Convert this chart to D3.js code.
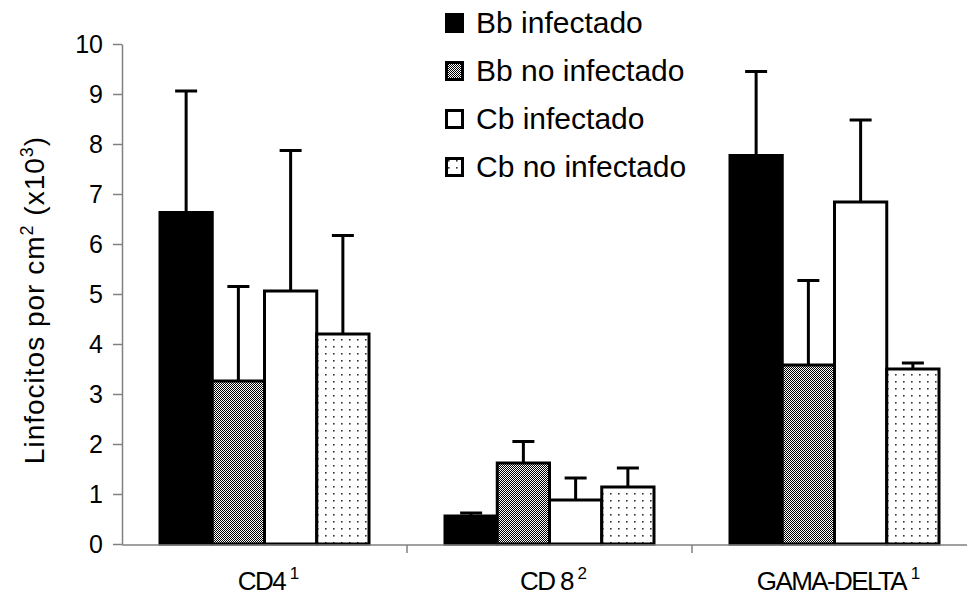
<!DOCTYPE html>
<html>
<head>
<meta charset="utf-8">
<script src="https://cdn.jsdelivr.net/npm/d3@7"></script>
<style>
  body { margin: 0; background: #fff; }
  text { font-family: Arial, "Liberation Sans", sans-serif; fill: #000; }
</style>
</head>
<body>
<div id="canvas"></div>
<script>
// data
const categories = ['CD4', 'CD 8', 'GAMA-DELTA'];
const catSup = ['1', '2', '1'];
const series = ['Bb infectado', 'Bb no infectado', 'Cb infectado', 'Cb no infectado'];
const bbInf = [6.63, 0.56, 7.77];
const bbNoInf = [3.26, 1.62, 3.58];
const cbInf = [5.06, 0.88, 6.84];
const cbNoInf = [4.2, 1.14, 3.5];
const bbInfErr = [9.06, 0.62, 9.45];
const bbNoInfErr = [5.15, 2.05, 5.27];
const cbInfErr = [7.87, 1.32, 8.48];
const cbNoInfErr = [6.17, 1.52, 3.62];
const yTicks = [0, 1, 2, 3, 4, 5, 6, 7, 8, 9, 10];

const values = [bbInf, bbNoInf, cbInf, cbNoInf];
const errors = [bbInfErr, bbNoInfErr, cbInfErr, cbNoInfErr];
const fills = ['#000', 'url(#checker)', '#fff', 'url(#dots)'];

const width = 967, height = 597;

const svg = d3.select('#canvas')
  .append('svg')
  .attr('width', width)
  .attr('height', height);

// patterns
const defs = svg.append('defs');
const checker = defs.append('pattern')
  .attr('id', 'checker')
  .attr('patternUnits', 'userSpaceOnUse')
  .attr('width', 2).attr('height', 2);
checker.append('rect').attr('width', 2).attr('height', 2).attr('fill', '#fff');
checker.append('rect').attr('width', 1).attr('height', 1).attr('fill', '#000');
checker.append('rect').attr('x', 1).attr('y', 1).attr('width', 1).attr('height', 1).attr('fill', '#000');

const dots = defs.append('pattern')
  .attr('id', 'dots')
  .attr('patternUnits', 'userSpaceOnUse')
  .attr('width', 8).attr('height', 7);
dots.append('rect').attr('width', 8).attr('height', 7).attr('fill', '#fff');
dots.append('rect').attr('x', 3).attr('y', 3).attr('width', 1.6).attr('height', 1.6).attr('fill', '#333');

// scales
const x0 = d3.scaleBand().domain(categories).range([122, 977]);
const groupW = 209;
const x1 = d3.scaleBand().domain(d3.range(4))
  .range([(x0.bandwidth() - groupW) / 2, (x0.bandwidth() + groupW) / 2]);
const y = d3.scaleLinear().domain([0, 10]).range([544, 44]);

// y axis
const yAxisGroup = svg.append('g')
  .attr('transform', 'translate(122,0)')
  .call(d3.axisLeft(y).tickValues(yTicks).tickSize(9).tickSizeOuter(0).tickPadding(10));
yAxisGroup.select('.domain').attr('stroke', '#808080').attr('stroke-width', 1.5);
yAxisGroup.selectAll('.tick line').attr('stroke', '#808080').attr('stroke-width', 1.5);
yAxisGroup.selectAll('.tick text')
  .style('font-size', '25px')
  .style('font-family', 'Arial, "Liberation Sans", sans-serif')
  .attr('fill', '#000');

// bars
const groups = svg.selectAll('g.cat')
  .data(categories)
  .enter().append('g')
  .attr('class', 'cat')
  .attr('transform', d => `translate(${x0(d)},0)`);

groups.each(function(cat, ci) {
  const g = d3.select(this);
  d3.range(4).forEach(si => {
    const v = values[si][ci];
    const e = errors[si][ci];
    const cx = x1(si) + x1.bandwidth() / 2;
    // error bar (upward only)
    g.append('line')
      .attr('x1', cx).attr('x2', cx)
      .attr('y1', y(v)).attr('y2', y(e))
      .attr('stroke', '#000').attr('stroke-width', 3);
    g.append('line')
      .attr('x1', cx - 11).attr('x2', cx + 11)
      .attr('y1', y(e)).attr('y2', y(e))
      .attr('stroke', '#000').attr('stroke-width', 3);
    g.append('rect')
      .attr('x', x1(si))
      .attr('y', y(v))
      .attr('width', x1.bandwidth())
      .attr('height', y(0) - y(v))
      .attr('fill', fills[si])
      .attr('stroke', '#000')
      .attr('stroke-width', 3);
  });
});

// x axis
const xAxisGroup = svg.append('g');
xAxisGroup.append('line')
  .attr('x1', 122).attr('x2', width)
  .attr('y1', 545).attr('y2', 545)
  .attr('stroke', '#808080').attr('stroke-width', 1.5);
xAxisGroup.selectAll('line.tick')
  .data(categories.slice(1))
  .enter().append('line')
  .attr('class', 'tick')
  .attr('x1', d => x0(d)).attr('x2', d => x0(d))
  .attr('y1', 545).attr('y2', 553)
  .attr('stroke', '#808080').attr('stroke-width', 1.5);

const xLabels = xAxisGroup.selectAll('text.cat')
  .data(categories)
  .enter().append('text')
  .attr('class', 'cat')
  .attr('x', d => x0(d) + x0.bandwidth() / 2 + 4)
  .attr('y', 590)
  .attr('text-anchor', 'middle')
  .style('font-size', '26px')
  .style('letter-spacing', '-1.6px');
xLabels.append('tspan').text(d => d);
xLabels.append('tspan')
  .text((d, i) => ' ' + catSup[i])
  .attr('dy', -11)
  .style('font-size', '17px')
  .style('letter-spacing', '0px');

// y axis title
const yTitle = svg.append('text')
  .attr('transform', 'translate(44,300) rotate(-90)')
  .attr('text-anchor', 'middle')
  .style('font-size', '28px')
  .style('letter-spacing', '1px');
yTitle.append('tspan').text('Linfocitos  por cm');
yTitle.append('tspan').text('2').attr('dy', -11).style('font-size', '18px');
yTitle.append('tspan').text(' (x10').attr('dy', 11);
yTitle.append('tspan').text('3').attr('dy', -11).style('font-size', '18px');
yTitle.append('tspan').text(')').attr('dy', 11);

// legend
const legend = svg.append('g').attr('transform', 'translate(445,0)');
const legendRows = legend.selectAll('g')
  .data(series)
  .enter().append('g')
  .attr('transform', (d, i) => `translate(0,${13 + i * 48})`);
legendRows.append('rect')
  .attr('x', 1.5).attr('y', 1.5)
  .attr('width', 16).attr('height', 17)
  .attr('fill', (d, i) => fills[i])
  .attr('stroke', '#000')
  .attr('stroke-width', 3);
legendRows.append('text')
  .attr('x', 31)
  .attr('y', 20)
  .style('font-size', '30px')
  .style('letter-spacing', '0px')
  .text(d => d);
</script>
</body>
</html>
